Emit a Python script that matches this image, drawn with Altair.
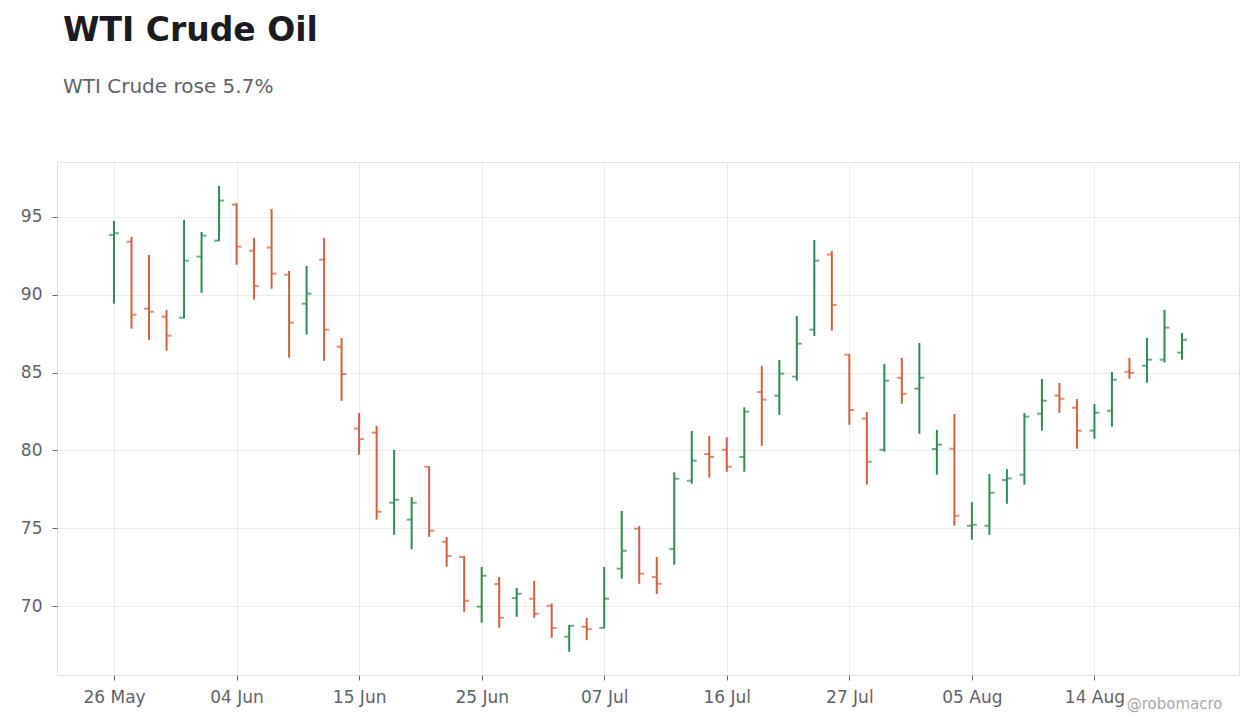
import pandas as pd
import altair as alt

# trading days shown on the chart
dates = ["26 May", "27 May", "29 May", "30 May", "31 May", "01 Jun", "02 Jun",
         "04 Jun", "06 Jun", "07 Jun", "08 Jun", "10 Jun", "12 Jun", "13 Jun",
         "15 Jun", "16 Jun", "18 Jun", "19 Jun", "20 Jun", "22 Jun", "23 Jun",
         "25 Jun", "27 Jun", "28 Jun", "30 Jun", "01 Jul", "03 Jul", "05 Jul",
         "07 Jul", "08 Jul", "10 Jul", "11 Jul", "12 Jul", "13 Jul", "14 Jul",
         "16 Jul", "18 Jul", "19 Jul", "21 Jul", "22 Jul", "24 Jul", "25 Jul",
         "27 Jul", "28 Jul", "29 Jul", "31 Jul", "01 Aug", "02 Aug", "03 Aug",
         "05 Aug", "06 Aug", "08 Aug", "09 Aug", "10 Aug", "11 Aug", "12 Aug",
         "14 Aug", "15 Aug", "16 Aug", "18 Aug", "19 Aug", "20 Aug"]

open_ = [93.85, 93.41, 89.11, 88.59, 88.53, 92.45, 93.48, 95.79, 92.83, 93.03,
         91.29, 89.43, 92.26, 86.66, 81.40, 81.14, 76.64, 75.55, 78.95, 74.13,
         73.15, 69.96, 71.41, 70.51, 70.47, 70.02, 68.03, 68.67, 68.60, 72.40,
         74.97, 71.86, 73.66, 78.05, 79.77, 80.04, 79.58, 83.75, 83.52, 84.74,
         87.76, 92.58, 86.15, 82.04, 80.04, 84.67, 83.97, 80.09, 80.11, 75.16,
         75.16, 78.10, 78.44, 82.36, 83.52, 82.74, 81.27, 82.55, 85.05, 85.44,
         85.83, 86.28]
high = [94.74, 93.71, 92.56, 89.02, 94.81, 94.04, 96.99, 95.88, 93.65, 95.51,
        91.53, 91.85, 93.65, 87.22, 82.40, 81.57, 80.03, 77.00, 78.98, 74.43,
        73.21, 72.51, 71.86, 71.16, 71.61, 70.17, 68.78, 69.23, 72.51, 76.11,
        75.14, 73.15, 78.59, 81.25, 80.93, 80.84, 82.77, 85.42, 85.81, 88.64,
        93.52, 92.81, 86.18, 82.47, 85.55, 85.94, 86.90, 81.31, 82.34, 76.68,
        78.48, 78.80, 82.40, 84.59, 84.33, 83.30, 82.98, 85.04, 85.94, 87.22,
        89.02, 87.54]
low = [89.43, 87.82, 87.11, 86.41, 88.49, 90.13, 93.46, 91.93, 89.69, 90.39,
       85.96, 87.44, 85.76, 83.19, 79.72, 75.55, 74.58, 73.65, 74.45, 72.53,
       69.63, 68.93, 68.61, 69.31, 69.25, 67.96, 67.06, 67.81, 68.57, 71.75,
       71.43, 70.79, 72.65, 77.86, 78.25, 78.63, 78.63, 80.30, 82.29, 84.48,
       87.35, 87.69, 81.65, 77.80, 79.92, 83.00, 81.07, 78.44, 75.16, 74.26,
       74.58, 76.57, 77.80, 81.27, 82.42, 80.11, 80.75, 81.52, 84.61, 84.35,
       85.64, 85.83]
close = [93.95, 88.72, 88.91, 87.37, 92.19, 93.80, 96.05, 93.09, 90.57, 91.36,
         88.21, 90.07, 87.76, 84.91, 80.73, 76.06, 76.83, 76.64, 74.84, 73.21,
         70.34, 71.95, 69.25, 70.79, 69.51, 68.60, 68.73, 68.52, 70.47, 73.55,
         72.08, 71.43, 78.18, 79.34, 79.58, 78.95, 82.49, 83.26, 84.93, 86.86,
         92.19, 89.34, 82.60, 79.27, 84.48, 83.64, 84.67, 80.37, 75.80, 75.22,
         77.28, 78.20, 82.17, 83.19, 83.32, 81.27, 82.42, 84.54, 84.98, 85.83,
         87.89, 87.11]

tick_dates = ["26 May", "04 Jun", "15 Jun", "25 Jun", "07 Jul",
              "16 Jul", "27 Jul", "05 Aug", "14 Aug"]

green = "#2e8b57"
orange = "#d0603e"

df = pd.DataFrame({"date": dates, "open": open_, "high": high,
                   "low": low, "close": close})
df["idx"] = range(len(df))  # trading-day position, no gaps for weekends

tick_idx = [dates.index(d) for d in tick_dates]
label_expr = "{" + ", ".join("'%d': '%s'" % (i, d) for i, d in zip(tick_idx, tick_dates)) + "}[datum.value]"

x = alt.X("idx:Q",
          scale=alt.Scale(domain=[-3.257, len(dates) - 1 + 3.257], nice=False, zero=False),
          axis=alt.Axis(values=tick_idx, labelExpr=label_expr, labelAngle=0, tickSize=5,
                        tickColor="#666666", labelPadding=9, domain=False,
                        grid=True, gridColor="#ececec",
                        title="@robomacro", titleFontSize=15,
                        titleFontWeight="normal", titleColor="#aaaaaa",
                        titleAlign="right", titleBaseline="alphabetic",
                        titleX=1165, titleY=33))
y = alt.Y("low:Q",
          scale=alt.Scale(domain=[65.57, 98.53], nice=False, zero=False),
          axis=alt.Axis(values=[70, 75, 80, 85, 90, 95], tickSize=5,
                        tickColor="#666666", labelPadding=10, domain=False,
                        grid=True, gridColor="#ececec", title=None))
col = alt.condition("datum.close >= datum.open", alt.value(green), alt.value(orange))

base = alt.Chart(df)

hilo = base.mark_rule(strokeWidth=2).encode(x=x, y=y, y2="high:Q", color=col)
opens = base.mark_tick(orient="horizontal", size=5, thickness=2, xOffset=-2.5).encode(
    x=x, y="open:Q", color=col)
closes = base.mark_tick(orient="horizontal", size=5, thickness=2, xOffset=2.5).encode(
    x=x, y="close:Q", color=col)

chart = alt.layer(hilo, opens, closes).properties(
    width=1182, height=513,
    padding={"left": 12, "top": 7, "right": 13, "bottom": 5},
    title=alt.TitleParams(text="WTI Crude Oil", subtitle="WTI Crude rose 5.7%",
                          anchor="start", frame="group", dx=6, fontSize=33,
                          fontWeight="bold", color="#1c1c1e", subtitleFontSize=20,
                          subtitleColor="#5f6368", subtitlePadding=29, offset=65)
).configure(font="DejaVu Sans").configure_view(
    stroke="#e0e0e0", strokeWidth=1
).configure_axis(labelFontSize=17, labelColor="#5f6368")

chart.save("out.html", embed_options={"renderer": "svg", "actions": False})
